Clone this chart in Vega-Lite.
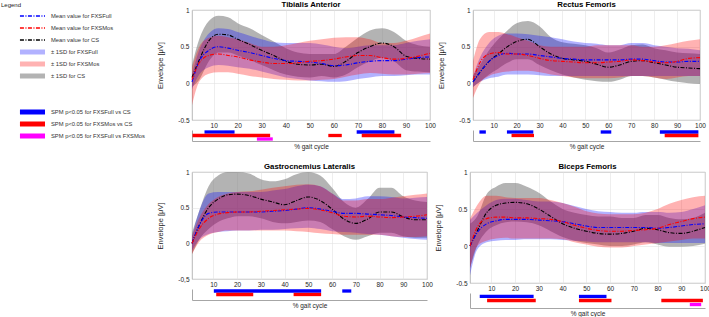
{
"$schema": "https://vega.github.io/schema/vega-lite/v6.json",
"padding": 0,
"config": {
  "font": "Liberation Sans",
  "view": {"stroke": "#a6a6a6", "strokeWidth": 0.8},
  "axis": {"labelFontSize": 6.5, "labelColor": "#262626", "titleColor": "#262626", "titleFontWeight": "normal", "gridColor": "#e3e3e3", "gridWidth": 0.6, "ticks": false, "domain": false, "labelPadding": 3, "minExtent": 0, "labelOverlap": false},
  "axisY": {"minExtent": 0},
  "title": {"fontSize": 7.8, "fontWeight": "bold", "color": "#000000", "offset": -2, "frame": "group"}
},
"datasets": {
"curves": [
{"m":"TA","g":"CS","x":1,"y":0.08,"lo":-0.05,"hi":0.25},
{"m":"TA","g":"CS","x":4,"y":0.32,"lo":0.05,"hi":0.60},
{"m":"TA","g":"CS","x":8,"y":0.58,"lo":0.30,"hi":0.85},
{"m":"TA","g":"CS","x":12,"y":0.67,"lo":0.42,"hi":0.92},
{"m":"TA","g":"CS","x":16,"y":0.66,"lo":0.42,"hi":0.90},
{"m":"TA","g":"CS","x":20,"y":0.60,"lo":0.38,"hi":0.82},
{"m":"TA","g":"CS","x":25,"y":0.53,"lo":0.32,"hi":0.75},
{"m":"TA","g":"CS","x":30,"y":0.45,"lo":0.25,"hi":0.66},
{"m":"TA","g":"CS","x":35,"y":0.38,"lo":0.18,"hi":0.57},
{"m":"TA","g":"CS","x":40,"y":0.30,"lo":0.12,"hi":0.48},
{"m":"TA","g":"CS","x":45,"y":0.26,"lo":0.09,"hi":0.42},
{"m":"TA","g":"CS","x":50,"y":0.25,"lo":0.08,"hi":0.40},
{"m":"TA","g":"CS","x":55,"y":0.26,"lo":0.10,"hi":0.40},
{"m":"TA","g":"CS","x":60,"y":0.23,"lo":0.08,"hi":0.40},
{"m":"TA","g":"CS","x":65,"y":0.30,"lo":0.12,"hi":0.50},
{"m":"TA","g":"CS","x":70,"y":0.42,"lo":0.22,"hi":0.62},
{"m":"TA","g":"CS","x":75,"y":0.50,"lo":0.30,"hi":0.72},
{"m":"TA","g":"CS","x":80,"y":0.55,"lo":0.35,"hi":0.75},
{"m":"TA","g":"CS","x":85,"y":0.50,"lo":0.30,"hi":0.70},
{"m":"TA","g":"CS","x":90,"y":0.37,"lo":0.18,"hi":0.58},
{"m":"TA","g":"CS","x":95,"y":0.34,"lo":0.16,"hi":0.52},
{"m":"TA","g":"CS","x":100,"y":0.33,"lo":0.15,"hi":0.50},
{"m":"TA","g":"FXSFull","x":1,"y":0.02,"lo":-0.08,"hi":0.12},
{"m":"TA","g":"FXSFull","x":4,"y":0.30,"lo":0.12,"hi":0.45},
{"m":"TA","g":"FXSFull","x":8,"y":0.45,"lo":0.22,"hi":0.68},
{"m":"TA","g":"FXSFull","x":12,"y":0.50,"lo":0.25,"hi":0.75},
{"m":"TA","g":"FXSFull","x":16,"y":0.48,"lo":0.24,"hi":0.74},
{"m":"TA","g":"FXSFull","x":20,"y":0.45,"lo":0.22,"hi":0.70},
{"m":"TA","g":"FXSFull","x":25,"y":0.42,"lo":0.20,"hi":0.65},
{"m":"TA","g":"FXSFull","x":30,"y":0.38,"lo":0.16,"hi":0.60},
{"m":"TA","g":"FXSFull","x":35,"y":0.34,"lo":0.12,"hi":0.56},
{"m":"TA","g":"FXSFull","x":40,"y":0.31,"lo":0.08,"hi":0.55},
{"m":"TA","g":"FXSFull","x":45,"y":0.30,"lo":0.06,"hi":0.55},
{"m":"TA","g":"FXSFull","x":50,"y":0.29,"lo":0.04,"hi":0.55},
{"m":"TA","g":"FXSFull","x":55,"y":0.27,"lo":0.03,"hi":0.53},
{"m":"TA","g":"FXSFull","x":60,"y":0.24,"lo":0.02,"hi":0.50},
{"m":"TA","g":"FXSFull","x":65,"y":0.25,"lo":0.03,"hi":0.48},
{"m":"TA","g":"FXSFull","x":70,"y":0.28,"lo":0.06,"hi":0.50},
{"m":"TA","g":"FXSFull","x":75,"y":0.30,"lo":0.08,"hi":0.52},
{"m":"TA","g":"FXSFull","x":80,"y":0.31,"lo":0.10,"hi":0.52},
{"m":"TA","g":"FXSFull","x":85,"y":0.31,"lo":0.10,"hi":0.52},
{"m":"TA","g":"FXSFull","x":90,"y":0.33,"lo":0.11,"hi":0.55},
{"m":"TA","g":"FXSFull","x":95,"y":0.35,"lo":0.12,"hi":0.58},
{"m":"TA","g":"FXSFull","x":100,"y":0.36,"lo":0.12,"hi":0.60},
{"m":"TA","g":"FXSMos","x":1,"y":0.05,"lo":-0.30,"hi":0.22},
{"m":"TA","g":"FXSMos","x":4,"y":0.28,"lo":0.02,"hi":0.50},
{"m":"TA","g":"FXSMos","x":8,"y":0.38,"lo":0.13,"hi":0.62},
{"m":"TA","g":"FXSMos","x":12,"y":0.40,"lo":0.15,"hi":0.65},
{"m":"TA","g":"FXSMos","x":16,"y":0.38,"lo":0.15,"hi":0.63},
{"m":"TA","g":"FXSMos","x":20,"y":0.36,"lo":0.13,"hi":0.60},
{"m":"TA","g":"FXSMos","x":25,"y":0.32,"lo":0.10,"hi":0.55},
{"m":"TA","g":"FXSMos","x":30,"y":0.29,"lo":0.08,"hi":0.50},
{"m":"TA","g":"FXSMos","x":35,"y":0.27,"lo":0.06,"hi":0.50},
{"m":"TA","g":"FXSMos","x":40,"y":0.27,"lo":0.05,"hi":0.52},
{"m":"TA","g":"FXSMos","x":45,"y":0.28,"lo":0.04,"hi":0.55},
{"m":"TA","g":"FXSMos","x":50,"y":0.30,"lo":0.04,"hi":0.58},
{"m":"TA","g":"FXSMos","x":55,"y":0.31,"lo":0.05,"hi":0.60},
{"m":"TA","g":"FXSMos","x":60,"y":0.33,"lo":0.06,"hi":0.62},
{"m":"TA","g":"FXSMos","x":65,"y":0.36,"lo":0.09,"hi":0.63},
{"m":"TA","g":"FXSMos","x":70,"y":0.38,"lo":0.12,"hi":0.63},
{"m":"TA","g":"FXSMos","x":75,"y":0.38,"lo":0.14,"hi":0.60},
{"m":"TA","g":"FXSMos","x":80,"y":0.35,"lo":0.13,"hi":0.55},
{"m":"TA","g":"FXSMos","x":85,"y":0.33,"lo":0.12,"hi":0.55},
{"m":"TA","g":"FXSMos","x":90,"y":0.34,"lo":0.12,"hi":0.58},
{"m":"TA","g":"FXSMos","x":95,"y":0.37,"lo":0.13,"hi":0.63},
{"m":"TA","g":"FXSMos","x":100,"y":0.41,"lo":0.14,"hi":0.68},
{"m":"RF","g":"CS","x":1,"y":0.02,"lo":-0.05,"hi":0.10},
{"m":"RF","g":"CS","x":4,"y":0.15,"lo":0.02,"hi":0.25},
{"m":"RF","g":"CS","x":8,"y":0.30,"lo":0.12,"hi":0.45},
{"m":"RF","g":"CS","x":12,"y":0.40,"lo":0.20,"hi":0.60},
{"m":"RF","g":"CS","x":16,"y":0.50,"lo":0.28,"hi":0.72},
{"m":"RF","g":"CS","x":20,"y":0.57,"lo":0.33,"hi":0.82},
{"m":"RF","g":"CS","x":25,"y":0.60,"lo":0.33,"hi":0.85},
{"m":"RF","g":"CS","x":30,"y":0.50,"lo":0.25,"hi":0.78},
{"m":"RF","g":"CS","x":35,"y":0.40,"lo":0.18,"hi":0.63},
{"m":"RF","g":"CS","x":40,"y":0.34,"lo":0.12,"hi":0.56},
{"m":"RF","g":"CS","x":45,"y":0.32,"lo":0.08,"hi":0.54},
{"m":"RF","g":"CS","x":50,"y":0.30,"lo":0.05,"hi":0.52},
{"m":"RF","g":"CS","x":55,"y":0.26,"lo":0.03,"hi":0.48},
{"m":"RF","g":"CS","x":60,"y":0.22,"lo":0.02,"hi":0.42},
{"m":"RF","g":"CS","x":65,"y":0.25,"lo":0.05,"hi":0.46},
{"m":"RF","g":"CS","x":70,"y":0.30,"lo":0.10,"hi":0.52},
{"m":"RF","g":"CS","x":75,"y":0.31,"lo":0.10,"hi":0.53},
{"m":"RF","g":"CS","x":80,"y":0.28,"lo":0.08,"hi":0.48},
{"m":"RF","g":"CS","x":85,"y":0.25,"lo":0.05,"hi":0.45},
{"m":"RF","g":"CS","x":90,"y":0.22,"lo":0.02,"hi":0.42},
{"m":"RF","g":"CS","x":95,"y":0.21,"lo":0.00,"hi":0.41},
{"m":"RF","g":"CS","x":100,"y":0.20,"lo":-0.01,"hi":0.40},
{"m":"RF","g":"FXSFull","x":1,"y":0.02,"lo":-0.05,"hi":0.10},
{"m":"RF","g":"FXSFull","x":4,"y":0.15,"lo":0.02,"hi":0.35},
{"m":"RF","g":"FXSFull","x":8,"y":0.30,"lo":0.07,"hi":0.55},
{"m":"RF","g":"FXSFull","x":12,"y":0.38,"lo":0.09,"hi":0.65},
{"m":"RF","g":"FXSFull","x":16,"y":0.41,"lo":0.12,"hi":0.68},
{"m":"RF","g":"FXSFull","x":20,"y":0.40,"lo":0.12,"hi":0.68},
{"m":"RF","g":"FXSFull","x":25,"y":0.40,"lo":0.12,"hi":0.67},
{"m":"RF","g":"FXSFull","x":30,"y":0.38,"lo":0.11,"hi":0.65},
{"m":"RF","g":"FXSFull","x":35,"y":0.36,"lo":0.10,"hi":0.63},
{"m":"RF","g":"FXSFull","x":40,"y":0.34,"lo":0.10,"hi":0.60},
{"m":"RF","g":"FXSFull","x":45,"y":0.33,"lo":0.10,"hi":0.57},
{"m":"RF","g":"FXSFull","x":50,"y":0.32,"lo":0.10,"hi":0.55},
{"m":"RF","g":"FXSFull","x":55,"y":0.32,"lo":0.10,"hi":0.54},
{"m":"RF","g":"FXSFull","x":60,"y":0.32,"lo":0.10,"hi":0.52},
{"m":"RF","g":"FXSFull","x":65,"y":0.32,"lo":0.10,"hi":0.52},
{"m":"RF","g":"FXSFull","x":70,"y":0.33,"lo":0.10,"hi":0.55},
{"m":"RF","g":"FXSFull","x":75,"y":0.33,"lo":0.10,"hi":0.55},
{"m":"RF","g":"FXSFull","x":80,"y":0.31,"lo":0.10,"hi":0.52},
{"m":"RF","g":"FXSFull","x":85,"y":0.29,"lo":0.10,"hi":0.50},
{"m":"RF","g":"FXSFull","x":90,"y":0.29,"lo":0.10,"hi":0.48},
{"m":"RF","g":"FXSFull","x":95,"y":0.30,"lo":0.10,"hi":0.47},
{"m":"RF","g":"FXSFull","x":100,"y":0.30,"lo":0.10,"hi":0.45},
{"m":"RF","g":"FXSMos","x":1,"y":0.05,"lo":-0.20,"hi":0.30},
{"m":"RF","g":"FXSMos","x":4,"y":0.28,"lo":0.00,"hi":0.60},
{"m":"RF","g":"FXSMos","x":8,"y":0.40,"lo":0.10,"hi":0.70},
{"m":"RF","g":"FXSMos","x":12,"y":0.42,"lo":0.14,"hi":0.70},
{"m":"RF","g":"FXSMos","x":16,"y":0.40,"lo":0.16,"hi":0.67},
{"m":"RF","g":"FXSMos","x":20,"y":0.40,"lo":0.17,"hi":0.63},
{"m":"RF","g":"FXSMos","x":25,"y":0.38,"lo":0.17,"hi":0.58},
{"m":"RF","g":"FXSMos","x":30,"y":0.34,"lo":0.15,"hi":0.52},
{"m":"RF","g":"FXSMos","x":35,"y":0.31,"lo":0.12,"hi":0.50},
{"m":"RF","g":"FXSMos","x":40,"y":0.30,"lo":0.10,"hi":0.50},
{"m":"RF","g":"FXSMos","x":45,"y":0.29,"lo":0.08,"hi":0.50},
{"m":"RF","g":"FXSMos","x":50,"y":0.28,"lo":0.07,"hi":0.50},
{"m":"RF","g":"FXSMos","x":55,"y":0.28,"lo":0.07,"hi":0.52},
{"m":"RF","g":"FXSMos","x":60,"y":0.29,"lo":0.07,"hi":0.52},
{"m":"RF","g":"FXSMos","x":65,"y":0.30,"lo":0.08,"hi":0.52},
{"m":"RF","g":"FXSMos","x":70,"y":0.32,"lo":0.10,"hi":0.52},
{"m":"RF","g":"FXSMos","x":75,"y":0.31,"lo":0.10,"hi":0.50},
{"m":"RF","g":"FXSMos","x":80,"y":0.29,"lo":0.08,"hi":0.50},
{"m":"RF","g":"FXSMos","x":85,"y":0.28,"lo":0.06,"hi":0.52},
{"m":"RF","g":"FXSMos","x":90,"y":0.30,"lo":0.08,"hi":0.55},
{"m":"RF","g":"FXSMos","x":95,"y":0.34,"lo":0.10,"hi":0.58},
{"m":"RF","g":"FXSMos","x":100,"y":0.35,"lo":0.10,"hi":0.60},
{"m":"GL","g":"CS","x":1,"y":0.00,"lo":-0.15,"hi":0.15},
{"m":"GL","g":"CS","x":4,"y":0.25,"lo":0.05,"hi":0.45},
{"m":"GL","g":"CS","x":8,"y":0.50,"lo":0.20,"hi":0.80},
{"m":"GL","g":"CS","x":12,"y":0.62,"lo":0.30,"hi":0.95},
{"m":"GL","g":"CS","x":16,"y":0.68,"lo":0.35,"hi":1.00},
{"m":"GL","g":"CS","x":20,"y":0.69,"lo":0.38,"hi":1.00},
{"m":"GL","g":"CS","x":25,"y":0.67,"lo":0.38,"hi":0.98},
{"m":"GL","g":"CS","x":30,"y":0.62,"lo":0.35,"hi":0.90},
{"m":"GL","g":"CS","x":35,"y":0.58,"lo":0.30,"hi":0.87},
{"m":"GL","g":"CS","x":40,"y":0.54,"lo":0.28,"hi":0.90},
{"m":"GL","g":"CS","x":45,"y":0.60,"lo":0.30,"hi":0.97},
{"m":"GL","g":"CS","x":50,"y":0.65,"lo":0.32,"hi":1.00},
{"m":"GL","g":"CS","x":55,"y":0.60,"lo":0.30,"hi":0.95},
{"m":"GL","g":"CS","x":60,"y":0.48,"lo":0.20,"hi":0.78},
{"m":"GL","g":"CS","x":65,"y":0.34,"lo":0.10,"hi":0.58},
{"m":"GL","g":"CS","x":70,"y":0.28,"lo":0.05,"hi":0.50},
{"m":"GL","g":"CS","x":75,"y":0.34,"lo":0.10,"hi":0.62},
{"m":"GL","g":"CS","x":80,"y":0.44,"lo":0.15,"hi":0.78},
{"m":"GL","g":"CS","x":85,"y":0.44,"lo":0.15,"hi":0.78},
{"m":"GL","g":"CS","x":90,"y":0.37,"lo":0.10,"hi":0.66},
{"m":"GL","g":"CS","x":95,"y":0.33,"lo":0.08,"hi":0.60},
{"m":"GL","g":"CS","x":100,"y":0.33,"lo":0.08,"hi":0.58},
{"m":"GL","g":"FXSFull","x":1,"y":0.00,"lo":-0.10,"hi":0.10},
{"m":"GL","g":"FXSFull","x":4,"y":0.25,"lo":0.05,"hi":0.45},
{"m":"GL","g":"FXSFull","x":8,"y":0.42,"lo":0.13,"hi":0.70},
{"m":"GL","g":"FXSFull","x":12,"y":0.44,"lo":0.16,"hi":0.72},
{"m":"GL","g":"FXSFull","x":16,"y":0.44,"lo":0.17,"hi":0.72},
{"m":"GL","g":"FXSFull","x":20,"y":0.44,"lo":0.18,"hi":0.72},
{"m":"GL","g":"FXSFull","x":25,"y":0.44,"lo":0.18,"hi":0.72},
{"m":"GL","g":"FXSFull","x":30,"y":0.44,"lo":0.19,"hi":0.72},
{"m":"GL","g":"FXSFull","x":35,"y":0.45,"lo":0.19,"hi":0.74},
{"m":"GL","g":"FXSFull","x":40,"y":0.46,"lo":0.20,"hi":0.76},
{"m":"GL","g":"FXSFull","x":45,"y":0.48,"lo":0.21,"hi":0.80},
{"m":"GL","g":"FXSFull","x":50,"y":0.50,"lo":0.22,"hi":0.82},
{"m":"GL","g":"FXSFull","x":55,"y":0.48,"lo":0.20,"hi":0.80},
{"m":"GL","g":"FXSFull","x":60,"y":0.45,"lo":0.17,"hi":0.70},
{"m":"GL","g":"FXSFull","x":65,"y":0.42,"lo":0.16,"hi":0.62},
{"m":"GL","g":"FXSFull","x":70,"y":0.42,"lo":0.15,"hi":0.63},
{"m":"GL","g":"FXSFull","x":75,"y":0.41,"lo":0.13,"hi":0.66},
{"m":"GL","g":"FXSFull","x":80,"y":0.40,"lo":0.12,"hi":0.66},
{"m":"GL","g":"FXSFull","x":85,"y":0.39,"lo":0.10,"hi":0.65},
{"m":"GL","g":"FXSFull","x":90,"y":0.37,"lo":0.08,"hi":0.63},
{"m":"GL","g":"FXSFull","x":95,"y":0.36,"lo":0.06,"hi":0.64},
{"m":"GL","g":"FXSFull","x":100,"y":0.35,"lo":0.05,"hi":0.65},
{"m":"GL","g":"FXSMos","x":1,"y":0.00,"lo":-0.15,"hi":0.10},
{"m":"GL","g":"FXSMos","x":4,"y":0.20,"lo":0.02,"hi":0.35},
{"m":"GL","g":"FXSMos","x":8,"y":0.35,"lo":0.12,"hi":0.55},
{"m":"GL","g":"FXSMos","x":12,"y":0.41,"lo":0.16,"hi":0.65},
{"m":"GL","g":"FXSMos","x":16,"y":0.43,"lo":0.18,"hi":0.70},
{"m":"GL","g":"FXSMos","x":20,"y":0.44,"lo":0.18,"hi":0.72},
{"m":"GL","g":"FXSMos","x":25,"y":0.44,"lo":0.18,"hi":0.73},
{"m":"GL","g":"FXSMos","x":30,"y":0.45,"lo":0.18,"hi":0.75},
{"m":"GL","g":"FXSMos","x":35,"y":0.46,"lo":0.18,"hi":0.78},
{"m":"GL","g":"FXSMos","x":40,"y":0.47,"lo":0.18,"hi":0.80},
{"m":"GL","g":"FXSMos","x":45,"y":0.48,"lo":0.17,"hi":0.82},
{"m":"GL","g":"FXSMos","x":50,"y":0.49,"lo":0.16,"hi":0.83},
{"m":"GL","g":"FXSMos","x":55,"y":0.47,"lo":0.14,"hi":0.80},
{"m":"GL","g":"FXSMos","x":60,"y":0.43,"lo":0.13,"hi":0.70},
{"m":"GL","g":"FXSMos","x":65,"y":0.38,"lo":0.12,"hi":0.60},
{"m":"GL","g":"FXSMos","x":70,"y":0.37,"lo":0.12,"hi":0.60},
{"m":"GL","g":"FXSMos","x":75,"y":0.38,"lo":0.12,"hi":0.62},
{"m":"GL","g":"FXSMos","x":80,"y":0.37,"lo":0.12,"hi":0.62},
{"m":"GL","g":"FXSMos","x":85,"y":0.36,"lo":0.10,"hi":0.64},
{"m":"GL","g":"FXSMos","x":90,"y":0.37,"lo":0.09,"hi":0.66},
{"m":"GL","g":"FXSMos","x":95,"y":0.38,"lo":0.09,"hi":0.68},
{"m":"GL","g":"FXSMos","x":100,"y":0.40,"lo":0.10,"hi":0.70},
{"m":"BF","g":"CS","x":1,"y":0.00,"lo":-0.30,"hi":0.30},
{"m":"BF","g":"CS","x":4,"y":0.20,"lo":0.00,"hi":0.40},
{"m":"BF","g":"CS","x":8,"y":0.45,"lo":0.20,"hi":0.70},
{"m":"BF","g":"CS","x":12,"y":0.55,"lo":0.28,"hi":0.80},
{"m":"BF","g":"CS","x":16,"y":0.58,"lo":0.32,"hi":0.85},
{"m":"BF","g":"CS","x":20,"y":0.59,"lo":0.33,"hi":0.85},
{"m":"BF","g":"CS","x":25,"y":0.57,"lo":0.32,"hi":0.80},
{"m":"BF","g":"CS","x":30,"y":0.50,"lo":0.28,"hi":0.72},
{"m":"BF","g":"CS","x":35,"y":0.40,"lo":0.20,"hi":0.60},
{"m":"BF","g":"CS","x":40,"y":0.30,"lo":0.12,"hi":0.50},
{"m":"BF","g":"CS","x":45,"y":0.24,"lo":0.07,"hi":0.45},
{"m":"BF","g":"CS","x":50,"y":0.20,"lo":0.04,"hi":0.42},
{"m":"BF","g":"CS","x":55,"y":0.17,"lo":0.02,"hi":0.40},
{"m":"BF","g":"CS","x":60,"y":0.16,"lo":0.00,"hi":0.40},
{"m":"BF","g":"CS","x":65,"y":0.17,"lo":0.00,"hi":0.38},
{"m":"BF","g":"CS","x":70,"y":0.20,"lo":0.02,"hi":0.38},
{"m":"BF","g":"CS","x":75,"y":0.24,"lo":0.05,"hi":0.42},
{"m":"BF","g":"CS","x":80,"y":0.22,"lo":0.02,"hi":0.42},
{"m":"BF","g":"CS","x":85,"y":0.18,"lo":-0.01,"hi":0.38},
{"m":"BF","g":"CS","x":90,"y":0.17,"lo":-0.01,"hi":0.36},
{"m":"BF","g":"CS","x":95,"y":0.20,"lo":0.00,"hi":0.38},
{"m":"BF","g":"CS","x":100,"y":0.25,"lo":0.03,"hi":0.45},
{"m":"BF","g":"FXSFull","x":1,"y":0.00,"lo":-0.40,"hi":0.35},
{"m":"BF","g":"FXSFull","x":4,"y":0.18,"lo":-0.05,"hi":0.45},
{"m":"BF","g":"FXSFull","x":8,"y":0.30,"lo":0.05,"hi":0.55},
{"m":"BF","g":"FXSFull","x":12,"y":0.34,"lo":0.07,"hi":0.62},
{"m":"BF","g":"FXSFull","x":16,"y":0.36,"lo":0.08,"hi":0.64},
{"m":"BF","g":"FXSFull","x":20,"y":0.36,"lo":0.08,"hi":0.64},
{"m":"BF","g":"FXSFull","x":25,"y":0.36,"lo":0.09,"hi":0.62},
{"m":"BF","g":"FXSFull","x":30,"y":0.35,"lo":0.09,"hi":0.60},
{"m":"BF","g":"FXSFull","x":35,"y":0.34,"lo":0.09,"hi":0.60},
{"m":"BF","g":"FXSFull","x":40,"y":0.33,"lo":0.08,"hi":0.58},
{"m":"BF","g":"FXSFull","x":45,"y":0.30,"lo":0.07,"hi":0.54},
{"m":"BF","g":"FXSFull","x":50,"y":0.27,"lo":0.06,"hi":0.50},
{"m":"BF","g":"FXSFull","x":55,"y":0.25,"lo":0.05,"hi":0.47},
{"m":"BF","g":"FXSFull","x":60,"y":0.25,"lo":0.05,"hi":0.46},
{"m":"BF","g":"FXSFull","x":65,"y":0.25,"lo":0.05,"hi":0.45},
{"m":"BF","g":"FXSFull","x":70,"y":0.25,"lo":0.05,"hi":0.45},
{"m":"BF","g":"FXSFull","x":75,"y":0.25,"lo":0.05,"hi":0.46},
{"m":"BF","g":"FXSFull","x":80,"y":0.24,"lo":0.04,"hi":0.46},
{"m":"BF","g":"FXSFull","x":85,"y":0.25,"lo":0.04,"hi":0.45},
{"m":"BF","g":"FXSFull","x":90,"y":0.27,"lo":0.04,"hi":0.46},
{"m":"BF","g":"FXSFull","x":95,"y":0.29,"lo":0.04,"hi":0.50},
{"m":"BF","g":"FXSFull","x":100,"y":0.30,"lo":0.04,"hi":0.55},
{"m":"BF","g":"FXSMos","x":1,"y":0.00,"lo":-0.30,"hi":0.37},
{"m":"BF","g":"FXSMos","x":4,"y":0.25,"lo":0.00,"hi":0.55},
{"m":"BF","g":"FXSMos","x":8,"y":0.37,"lo":0.07,"hi":0.68},
{"m":"BF","g":"FXSMos","x":12,"y":0.39,"lo":0.10,"hi":0.68},
{"m":"BF","g":"FXSMos","x":16,"y":0.39,"lo":0.11,"hi":0.66},
{"m":"BF","g":"FXSMos","x":20,"y":0.38,"lo":0.10,"hi":0.65},
{"m":"BF","g":"FXSMos","x":25,"y":0.38,"lo":0.10,"hi":0.65},
{"m":"BF","g":"FXSMos","x":30,"y":0.37,"lo":0.10,"hi":0.65},
{"m":"BF","g":"FXSMos","x":35,"y":0.36,"lo":0.10,"hi":0.62},
{"m":"BF","g":"FXSMos","x":40,"y":0.33,"lo":0.09,"hi":0.58},
{"m":"BF","g":"FXSMos","x":45,"y":0.28,"lo":0.05,"hi":0.53},
{"m":"BF","g":"FXSMos","x":50,"y":0.24,"lo":0.02,"hi":0.47},
{"m":"BF","g":"FXSMos","x":55,"y":0.21,"lo":-0.01,"hi":0.44},
{"m":"BF","g":"FXSMos","x":60,"y":0.20,"lo":-0.02,"hi":0.43},
{"m":"BF","g":"FXSMos","x":65,"y":0.20,"lo":-0.02,"hi":0.43},
{"m":"BF","g":"FXSMos","x":70,"y":0.21,"lo":0.00,"hi":0.43},
{"m":"BF","g":"FXSMos","x":75,"y":0.22,"lo":0.02,"hi":0.45},
{"m":"BF","g":"FXSMos","x":80,"y":0.24,"lo":0.04,"hi":0.50},
{"m":"BF","g":"FXSMos","x":85,"y":0.29,"lo":0.06,"hi":0.57},
{"m":"BF","g":"FXSMos","x":90,"y":0.33,"lo":0.08,"hi":0.62},
{"m":"BF","g":"FXSMos","x":95,"y":0.37,"lo":0.10,"hi":0.66},
{"m":"BF","g":"FXSMos","x":100,"y":0.39,"lo":0.10,"hi":0.68}
],
"spm": [
{"m":"TA","c":"FXSFull vs CS","s":6.2,"e":18.7},
{"m":"TA","c":"FXSFull vs CS","s":69.5,"e":85.2},
{"m":"TA","c":"FXSMos vs CS","s":1.2,"e":33.5},
{"m":"TA","c":"FXSMos vs CS","s":57.7,"e":63.3},
{"m":"TA","c":"FXSMos vs CS","s":71.6,"e":88},
{"m":"TA","c":"FXSFull vs FXSMos","s":28,"e":34.6},
{"m":"RF","c":"FXSFull vs CS","s":3.8,"e":6.6},
{"m":"RF","c":"FXSFull vs CS","s":15.8,"e":27.3},
{"m":"RF","c":"FXSFull vs CS","s":56.7,"e":61.3},
{"m":"RF","c":"FXSFull vs CS","s":82.5,"e":99.3},
{"m":"RF","c":"FXSMos vs CS","s":17.8,"e":27.6},
{"m":"RF","c":"FXSMos vs CS","s":84.6,"e":99.3},
{"m":"GL","c":"FXSFull vs CS","s":10.2,"e":55.4},
{"m":"GL","c":"FXSFull vs CS","s":64.3,"e":68.1},
{"m":"GL","c":"FXSMos vs CS","s":11.2,"e":26.8},
{"m":"GL","c":"FXSMos vs CS","s":43.8,"e":55.4},
{"m":"BF","c":"FXSFull vs CS","s":5.1,"e":27.8},
{"m":"BF","c":"FXSFull vs CS","s":46.9,"e":58.5},
{"m":"BF","c":"FXSMos vs CS","s":8.2,"e":28.7},
{"m":"BF","c":"FXSMos vs CS","s":46.9,"e":60.6},
{"m":"BF","c":"FXSMos vs CS","s":81.6,"e":99.1},
{"m":"BF","c":"FXSFull vs FXSMos","s":93.6,"e":98.4}
],
"legend": [
{"lab":"Mean value for FXSFull","k":"mean","g":"FXSFull"},
{"lab":"Mean value for FXSMos","k":"mean","g":"FXSMos"},
{"lab":"Mean value for CS","k":"mean","g":"CS"},
{"lab":"± 1SD for FXSFull","k":"sd","g":"FXSFull"},
{"lab":"± 1SD for FXSMos","k":"sd","g":"FXSMos"},
{"lab":"± 1SD for CS","k":"sd","g":"CS"},
{"lab":"SPM p<0.05 for FXSFull vs CS","k":"spm","c":"FXSFull vs CS"},
{"lab":"SPM p<0.05 for FXSMos vs CS","k":"spm","c":"FXSMos vs CS"},
{"lab":"SPM p<0.05 for FXSFull vs FXSMos","k":"spm","c":"FXSFull vs FXSMos"}
]
},
"spacing": 5,
"hconcat": [
{
  "width": 150, "height": 132,
  "view": {"stroke": null},
  "title": {"text": "Legend", "anchor": "start", "fontSize": 6, "fontWeight": "normal", "offset": 2, "dx": 1, "color": "#222222"},
  "data": {"name": "legend"},
  "encoding": {
    "y": {"field": "lab", "type": "nominal", "bandPosition": 0.5, "scale": {"domain": ["Mean value for FXSFull","Mean value for FXSMos","Mean value for CS","± 1SD for FXSFull","± 1SD for FXSMos","± 1SD for CS","gap1","gap2","SPM p<0.05 for FXSFull vs CS","SPM p<0.05 for FXSMos vs CS","SPM p<0.05 for FXSFull vs FXSMos"], "paddingInner": 0, "paddingOuter": 0}, "axis": null},
    "x": {"datum": 13.3, "type": "quantitative", "scale": {"domain": [0, 100], "nice": false, "zero": false}, "axis": null}
  },
  "layer": [
    {"transform": [{"filter": "datum.k == 'mean'"}],
     "mark": {"type": "rule", "strokeWidth": 1.3, "strokeDash": [4, 1.5, 1, 1.5]},
     "encoding": {
       "x2": {"datum": 30},
       "stroke": {"field": "g", "type": "nominal", "scale": {"domain": ["CS","FXSFull","FXSMos"], "range": ["#000000","#0000ff","#ff0000"]}, "legend": null}
     }},
    {"transform": [{"filter": "datum.k == 'sd'"}],
     "mark": {"type": "bar", "size": 5},
     "encoding": {
       "x2": {"datum": 30},
       "fill": {"field": "g", "type": "nominal", "scale": {"domain": ["CS","FXSFull","FXSMos"], "range": ["rgba(128,128,128,0.6)","rgba(0,0,255,0.3)","rgba(255,0,0,0.3)"]}, "legend": null}
     }},
    {"transform": [{"filter": "datum.k == 'spm'"}],
     "mark": {"type": "bar", "size": 5},
     "encoding": {
       "x2": {"datum": 30},
       "color": {"field": "c", "type": "nominal", "scale": {"domain": ["FXSFull vs CS","FXSMos vs CS","FXSFull vs FXSMos"], "range": ["#0000ff","#ff0000","#ff00ff"]}, "legend": null}
     }},
    {"mark": {"type": "text", "align": "left", "baseline": "middle", "fontSize": 5.8, "color": "#333333"},
     "encoding": {
       "x": {"datum": 34, "type": "quantitative", "axis": null},
       "text": {"field": "lab"}
     }}
  ]
},
{
  "spacing": 12,
  "vconcat": [
    {
      "spacing": 0,
      "hconcat": [
        {
          "spacing": 1,
          "vconcat": [
            {
              "width": 238, "height": 110,
              "title": {"text": "Tibialis Anterior"},
              "data": {"name": "curves"},
              "transform": [{"filter": "datum.m == 'TA'"}],
              "resolve": {"scale": {"y": "shared"}, "axis": {"y": "independent"}},
              "encoding": {
                "x": {"field": "x", "type": "quantitative", "scale": {"domain": [1, 100], "nice": false, "zero": false}, "axis": {"values": [10,20,30,40,50,60,70,80,90,100], "title": null, "labelFlush": false, "labelPadding": 2}}
              },
              "layer": [
                {"mark": {"type": "area", "interpolate": "monotone"},
                 "encoding": {
                   "y": {"field": "lo", "type": "quantitative", "scale": {"domain": [-0.5, 1], "nice": false, "zero": false}, "axis": {"orient": "left", "values": [-0.5, 0, 0.5, 1], "format": ".1~f", "labelExpr": "replace(datum.label, '−', '-')", "title": null, "labelFlush": false, "labelOverlap": false}},
                   "y2": {"field": "hi"},
                   "fill": {"field": "g", "type": "nominal", "scale": {"domain": ["CS","FXSFull","FXSMos"], "range": ["rgba(128,128,128,0.6)","rgba(0,0,255,0.3)","rgba(255,0,0,0.3)"]}, "legend": null}
                 }},
                {"mark": {"type": "line", "interpolate": "monotone", "strokeWidth": 1.1, "strokeDash": [4, 1.5, 1, 1.5]},
                 "encoding": {
                   "y": {"field": "y", "type": "quantitative", "axis": {"orient": "left", "values": [-0.5, 0, 0.5, 1], "labels": false, "grid": false, "title": "Envelope [μV]", "titleFontSize": 7.5, "titlePadding": 28}},
                   "stroke": {"field": "g", "type": "nominal", "scale": {"domain": ["CS","FXSFull","FXSMos"], "range": ["#000000","#0000ff","#ff0000"]}, "legend": null}
                 }}
              ]
            },
            {
              "width": 238, "height": 11,
              "view": {"stroke": null},
              "data": {"name": "spm"},
              "transform": [{"filter": "datum.m == 'TA'"}],
              "mark": {"type": "bar"},
              "encoding": {
                "x": {"field": "s", "type": "quantitative", "scale": {"domain": [1, 100], "nice": false, "zero": false}, "axis": {"title": "% gait cycle", "labels": false, "grid": false, "domain": true, "domainColor": "#a6a6a6", "titleFontSize": 6.5, "titlePadding": 2}},
                "x2": {"field": "e"},
                "y": {"field": "c", "type": "nominal", "scale": {"domain": ["FXSFull vs CS","FXSMos vs CS","FXSFull vs FXSMos"], "paddingInner": 0.06, "paddingOuter": 0.1}, "axis": {"title": null, "labels": false, "grid": false, "domain": true, "domainColor": "#a6a6a6"}},
                "color": {"field": "c", "type": "nominal", "scale": {"domain": ["FXSFull vs CS","FXSMos vs CS","FXSFull vs FXSMos"], "range": ["#0000ff","#ff0000","#ff00ff"]}, "legend": null}
              }
            }
          ]
        },
        {
          "spacing": 1,
          "vconcat": [
            {
              "width": 227, "height": 110,
              "title": {"text": "Rectus Femoris"},
              "data": {"name": "curves"},
              "transform": [{"filter": "datum.m == 'RF'"}],
              "resolve": {"scale": {"y": "shared"}, "axis": {"y": "independent"}},
              "encoding": {
                "x": {"field": "x", "type": "quantitative", "scale": {"domain": [1, 100], "nice": false, "zero": false}, "axis": {"values": [10,20,30,40,50,60,70,80,90,100], "title": null, "labelFlush": false, "labelPadding": 2}}
              },
              "layer": [
                {"mark": {"type": "area", "interpolate": "monotone"},
                 "encoding": {
                   "y": {"field": "lo", "type": "quantitative", "scale": {"domain": [-0.5, 1], "nice": false, "zero": false}, "axis": {"orient": "left", "values": [-0.5, 0, 0.5, 1], "format": ".1~f", "labelExpr": "replace(datum.label, '−', '-')", "title": null, "labelFlush": false, "labelOverlap": false}},
                   "y2": {"field": "hi"},
                   "fill": {"field": "g", "type": "nominal", "scale": {"domain": ["CS","FXSFull","FXSMos"], "range": ["rgba(128,128,128,0.6)","rgba(0,0,255,0.3)","rgba(255,0,0,0.3)"]}, "legend": null}
                 }},
                {"mark": {"type": "line", "interpolate": "monotone", "strokeWidth": 1.1, "strokeDash": [4, 1.5, 1, 1.5]},
                 "encoding": {
                   "y": {"field": "y", "type": "quantitative", "axis": {"orient": "left", "values": [-0.5, 0, 0.5, 1], "labels": false, "grid": false, "title": "Envelope [μV]", "titleFontSize": 7.5, "titlePadding": 28}},
                   "stroke": {"field": "g", "type": "nominal", "scale": {"domain": ["CS","FXSFull","FXSMos"], "range": ["#000000","#0000ff","#ff0000"]}, "legend": null}
                 }}
              ]
            },
            {
              "width": 227, "height": 11,
              "view": {"stroke": null},
              "data": {"name": "spm"},
              "transform": [{"filter": "datum.m == 'RF'"}],
              "mark": {"type": "bar"},
              "encoding": {
                "x": {"field": "s", "type": "quantitative", "scale": {"domain": [1, 100], "nice": false, "zero": false}, "axis": {"title": "% gait cycle", "labels": false, "grid": false, "domain": true, "domainColor": "#a6a6a6", "titleFontSize": 6.5, "titlePadding": 2}},
                "x2": {"field": "e"},
                "y": {"field": "c", "type": "nominal", "scale": {"domain": ["FXSFull vs CS","FXSMos vs CS","FXSFull vs FXSMos"], "paddingInner": 0.06, "paddingOuter": 0.1}, "axis": {"title": null, "labels": false, "grid": false, "domain": true, "domainColor": "#a6a6a6"}},
                "color": {"field": "c", "type": "nominal", "scale": {"domain": ["FXSFull vs CS","FXSMos vs CS","FXSFull vs FXSMos"], "range": ["#0000ff","#ff0000","#ff00ff"]}, "legend": null}
              }
            }
          ]
        }
      ]
    },
    {
      "spacing": 0,
      "hconcat": [
        {
          "spacing": 1,
          "vconcat": [
            {
              "width": 235, "height": 107,
              "title": {"text": "Gastrocnemius Lateralis"},
              "data": {"name": "curves"},
              "transform": [{"filter": "datum.m == 'GL'"}],
              "resolve": {"scale": {"y": "shared"}, "axis": {"y": "independent"}},
              "encoding": {
                "x": {"field": "x", "type": "quantitative", "scale": {"domain": [1, 100], "nice": false, "zero": false}, "axis": {"values": [10,20,30,40,50,60,70,80,90,100], "title": null, "labelFlush": false, "labelPadding": 2}}
              },
              "layer": [
                {"mark": {"type": "area", "interpolate": "monotone"},
                 "encoding": {
                   "y": {"field": "lo", "type": "quantitative", "scale": {"domain": [-0.5, 1], "nice": false, "zero": false}, "axis": {"orient": "left", "values": [-0.5, 0, 0.5, 1], "format": ".1~f", "labelExpr": "datum.value == -0.5 ? '-0,5' : datum.label", "title": null, "labelFlush": false, "labelOverlap": false}},
                   "y2": {"field": "hi"},
                   "fill": {"field": "g", "type": "nominal", "scale": {"domain": ["CS","FXSFull","FXSMos"], "range": ["rgba(128,128,128,0.6)","rgba(0,0,255,0.3)","rgba(255,0,0,0.3)"]}, "legend": null}
                 }},
                {"mark": {"type": "line", "interpolate": "monotone", "strokeWidth": 1.1, "strokeDash": [4, 1.5, 1, 1.5]},
                 "encoding": {
                   "y": {"field": "y", "type": "quantitative", "axis": {"orient": "left", "values": [-0.5, 0, 0.5, 1], "labels": false, "grid": false, "title": "Envelope [μV]", "titleFontSize": 7.5, "titlePadding": 28}},
                   "stroke": {"field": "g", "type": "nominal", "scale": {"domain": ["CS","FXSFull","FXSMos"], "range": ["#000000","#0000ff","#ff0000"]}, "legend": null}
                 }}
              ]
            },
            {
              "width": 235, "height": 11,
              "view": {"stroke": null},
              "data": {"name": "spm"},
              "transform": [{"filter": "datum.m == 'GL'"}],
              "mark": {"type": "bar"},
              "encoding": {
                "x": {"field": "s", "type": "quantitative", "scale": {"domain": [1, 100], "nice": false, "zero": false}, "axis": {"title": "% gait cycle", "labels": false, "grid": false, "domain": true, "domainColor": "#a6a6a6", "titleFontSize": 6.5, "titlePadding": 2}},
                "x2": {"field": "e"},
                "y": {"field": "c", "type": "nominal", "scale": {"domain": ["FXSFull vs CS","FXSMos vs CS","FXSFull vs FXSMos"], "paddingInner": 0.06, "paddingOuter": 0.1}, "axis": {"title": null, "labels": false, "grid": false, "domain": true, "domainColor": "#a6a6a6"}},
                "color": {"field": "c", "type": "nominal", "scale": {"domain": ["FXSFull vs CS","FXSMos vs CS","FXSFull vs FXSMos"], "range": ["#0000ff","#ff0000","#ff00ff"]}, "legend": null}
              }
            }
          ]
        },
        {
          "spacing": 1,
          "vconcat": [
            {
              "width": 235, "height": 111,
              "title": {"text": "Biceps Femoris"},
              "data": {"name": "curves"},
              "transform": [{"filter": "datum.m == 'BF'"}],
              "resolve": {"scale": {"y": "shared"}, "axis": {"y": "independent"}},
              "encoding": {
                "x": {"field": "x", "type": "quantitative", "scale": {"domain": [1, 100], "nice": false, "zero": false}, "axis": {"values": [10,20,30,40,50,60,70,80,90,100], "title": null, "labelFlush": false, "labelPadding": 2}}
              },
              "layer": [
                {"mark": {"type": "area", "interpolate": "monotone"},
                 "encoding": {
                   "y": {"field": "lo", "type": "quantitative", "scale": {"domain": [-0.5, 1], "nice": false, "zero": false}, "axis": {"orient": "left", "values": [-0.5, 0, 0.5, 1], "format": ".1~f", "labelExpr": "replace(datum.label, '−', '-')", "title": null, "labelFlush": false, "labelOverlap": false}},
                   "y2": {"field": "hi"},
                   "fill": {"field": "g", "type": "nominal", "scale": {"domain": ["CS","FXSFull","FXSMos"], "range": ["rgba(128,128,128,0.6)","rgba(0,0,255,0.3)","rgba(255,0,0,0.3)"]}, "legend": null}
                 }},
                {"mark": {"type": "line", "interpolate": "monotone", "strokeWidth": 1.1, "strokeDash": [4, 1.5, 1, 1.5]},
                 "encoding": {
                   "y": {"field": "y", "type": "quantitative", "axis": {"orient": "left", "values": [-0.5, 0, 0.5, 1], "labels": false, "grid": false, "title": "Envelope [μV]", "titleFontSize": 7.5, "titlePadding": 28}},
                   "stroke": {"field": "g", "type": "nominal", "scale": {"domain": ["CS","FXSFull","FXSMos"], "range": ["#000000","#0000ff","#ff0000"]}, "legend": null}
                 }}
              ]
            },
            {
              "width": 235, "height": 15,
              "view": {"stroke": null},
              "data": {"name": "spm"},
              "transform": [{"filter": "datum.m == 'BF'"}],
              "mark": {"type": "bar"},
              "encoding": {
                "x": {"field": "s", "type": "quantitative", "scale": {"domain": [1, 100], "nice": false, "zero": false}, "axis": {"title": "% gait cycle", "labels": false, "grid": false, "domain": true, "domainColor": "#a6a6a6", "titleFontSize": 6.5, "titlePadding": 2}},
                "x2": {"field": "e"},
                "y": {"field": "c", "type": "nominal", "scale": {"domain": ["FXSFull vs CS","FXSMos vs CS","FXSFull vs FXSMos"], "paddingInner": 0.18, "paddingOuter": 0.45}, "axis": {"title": null, "labels": false, "grid": false, "domain": true, "domainColor": "#a6a6a6"}},
                "color": {"field": "c", "type": "nominal", "scale": {"domain": ["FXSFull vs CS","FXSMos vs CS","FXSFull vs FXSMos"], "range": ["#0000ff","#ff0000","#ff00ff"]}, "legend": null}
              }
            }
          ]
        }
      ]
    }
  ]
}
]
}
